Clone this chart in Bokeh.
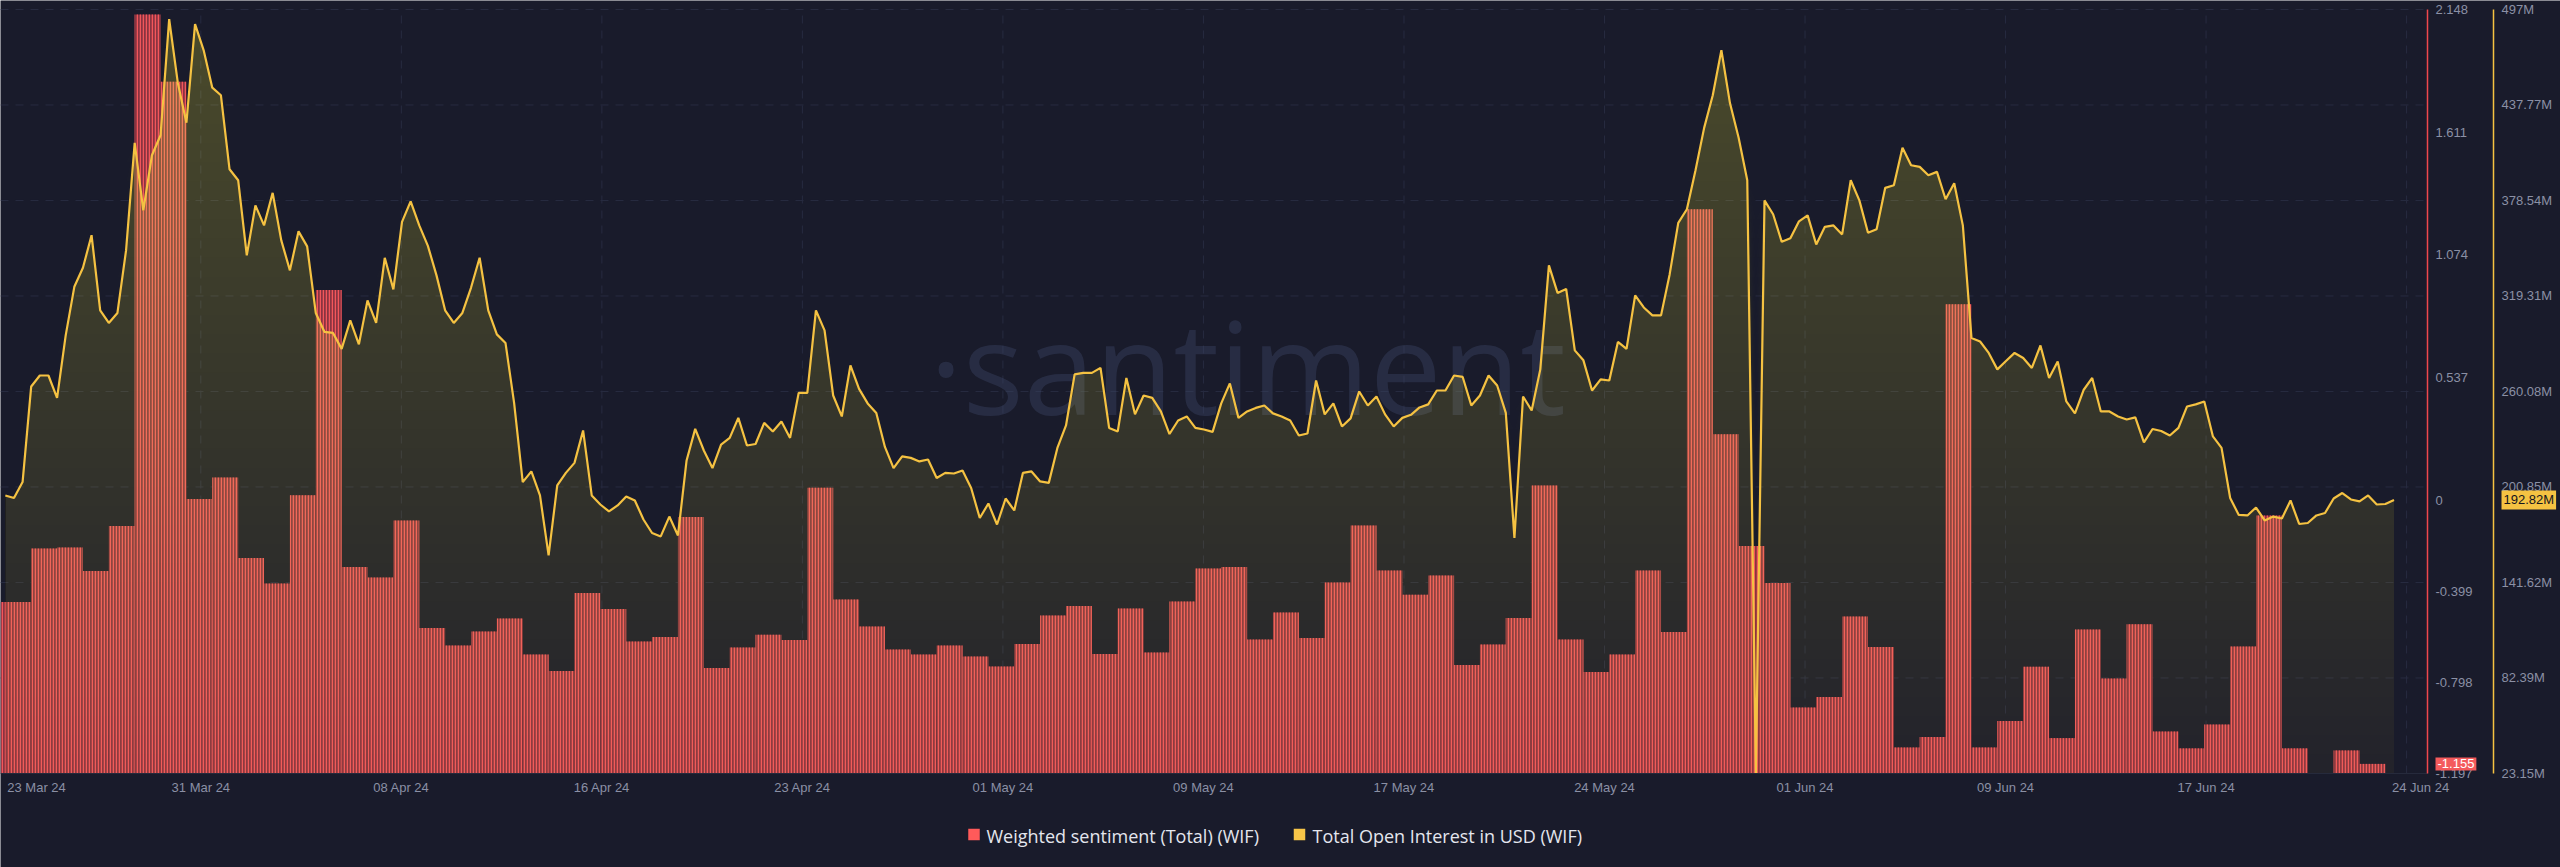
import numpy as np
import pandas as pd
from bokeh.plotting import figure
from bokeh.models import Range1d, Label, ColumnDataSource
from bokeh.core.properties import value
from bokeh.embed import file_html
from bokeh.resources import INLINE

# ---------------- data ----------------
sentiment_first_day = "2024-03-23"
sentiment = [
    -0.446, -0.446, -0.212, -0.207, -0.310, -0.113, 2.126, 1.832, 0.005, 0.099,
    -0.253, -0.365, 0.021, 0.920, -0.293, -0.339, -0.089, -0.560, -0.637, -0.575,
    -0.518, -0.676, -0.748, -0.407, -0.477, -0.619, -0.599, -0.074, -0.735, -0.645,
    -0.590, -0.612, 0.054, -0.435, -0.553, -0.654, -0.676, -0.637, -0.685, -0.728,
    -0.630, -0.505, -0.464, -0.674, -0.475, -0.667, -0.444, -0.299, -0.293, -0.610,
    -0.492, -0.604, -0.361, -0.111, -0.308, -0.414, -0.330, -0.722, -0.632, -0.516,
    0.064, -0.610, -0.753, -0.676, -0.308, -0.577, 1.273, 0.288, -0.201, -0.363,
    -0.908, -0.862, -0.510, -0.643, -1.083, -1.037, 0.857, -1.083, -0.967, -0.730,
    -1.042, -0.566, -0.781, -0.544, -1.013, -1.087, -0.982, -0.641, -0.067, -1.087,
    None, -1.096, -1.155,
]

oi_first_time = "2024-03-24 00:00"
oi_interval = "8h"
open_interest_musd = [
    195.6, 194.0, 203.9, 263.2, 270.0, 270.0, 256.1, 294.9, 325.0, 336.8,
    357.0, 310.4, 302.6, 308.8, 347.6, 414.3, 372.4, 406.6, 419.0, 491.0,
    451.6, 426.8, 487.9, 471.7, 448.5, 443.8, 397.9, 391.1, 344.5, 375.5,
    363.1, 383.3, 353.8, 335.2, 359.4, 350.1, 308.8, 297.1, 296.4, 286.5,
    304.2, 289.3, 316.6, 302.6, 343.0, 323.4, 365.3, 378.0, 363.1, 350.4,
    332.1, 310.4, 302.6, 308.8, 324.4, 343.0, 310.4, 295.5, 290.2, 253.0,
    203.9, 210.5, 195.6, 158.4, 201.8, 209.6, 215.8, 235.9, 195.6, 190.0,
    185.7, 189.4, 195.0, 192.5, 180.7, 172.3, 170.2, 182.5, 170.8, 217.3,
    236.9, 223.5, 212.6, 227.2, 231.3, 243.7, 226.6, 227.5, 240.6, 235.3,
    241.5, 231.3, 259.2, 259.2, 310.4, 298.0, 257.6, 244.6, 276.3, 261.7,
    252.7, 246.8, 225.7, 212.6, 219.8, 218.9, 216.7, 217.9, 206.4, 209.6,
    209.2, 211.1, 200.2, 181.6, 190.6, 177.6, 193.7, 186.3, 209.6, 210.5,
    204.3, 203.4, 225.1, 239.0, 270.7, 271.6, 271.6, 274.7, 237.5, 235.3,
    268.5, 245.9, 257.6, 256.1, 247.7, 233.7, 242.1, 244.6, 237.5, 236.5,
    235.0, 252.7, 265.1, 243.7, 247.7, 249.9, 251.4, 246.5, 244.6, 242.1,
    232.8, 234.0, 266.9, 245.9, 252.7, 238.4, 243.4, 260.1, 251.4, 257.0,
    245.9, 238.4, 243.7, 245.6, 250.2, 252.1, 260.7, 260.7, 270.0, 269.1,
    251.4, 257.6, 270.0, 263.8, 246.8, 169.2, 257.0, 248.3, 273.8, 338.3,
    321.2, 323.7, 285.6, 279.4, 260.7, 267.6, 266.9, 290.8, 286.5, 319.7,
    312.2, 307.3, 307.3, 332.7, 364.7, 373.1, 397.3, 423.6, 443.8, 471.7,
    438.8, 417.4, 391.1, 23.2, 378.6, 370.0, 352.9, 355.1, 365.6, 369.3,
    351.3, 362.2, 363.1, 357.5, 391.1, 378.6, 358.5, 360.7, 386.4, 388.0,
    411.2, 400.4, 399.4, 394.2, 396.3, 379.3, 389.2, 363.1, 293.3, 291.1,
    284.0, 273.8, 279.0, 284.0, 280.9, 274.7, 288.6, 268.5, 278.7, 253.9,
    246.5, 261.0, 268.5, 247.7, 247.7, 244.6, 242.7, 244.0, 228.5, 236.8,
    235.6, 232.8, 237.5, 250.8, 252.1, 253.9, 232.2, 225.1, 194.0, 183.5,
    183.2, 188.1, 180.1, 182.5, 181.3, 192.5, 177.9, 178.5, 183.2, 184.7,
    193.7, 197.1, 193.1, 191.9, 195.6, 190.0, 190.3, 192.8,
]

x_tick_labels = ["23 Mar 24", "31 Mar 24", "08 Apr 24", "16 Apr 24", "23 Apr 24",
                 "01 May 24", "09 May 24", "17 May 24", "24 May 24", "01 Jun 24",
                 "09 Jun 24", "17 Jun 24", "24 Jun 24"]
sentiment_ticks = [2.148, 1.611, 1.074, 0.537, 0.0, -0.399, -0.798, -1.197]
sentiment_tick_labels = ["2.148", "1.611", "1.074", "0.537", "0", "-0.399", "-0.798", "-1.197"]
oi_ticks = [497.0, 437.77, 378.54, 319.31, 260.08, 200.85, 141.62, 82.39, 23.15]
oi_tick_labels = ["497M", "437.77M", "378.54M", "319.31M", "260.08M", "200.85M",
                  "141.62M", "82.39M", "23.15M"]
last_sentiment = -1.155
last_oi = 192.82
series_names = ["Weighted sentiment (Total) (WIF)", "Total Open Interest in USD (WIF)"]

# ---------------- style ----------------
BG = "#191b2b"
RED = "#f2565b"
RED_DARK = "#8a3340"
RED_AXIS = "#f0474d"
YEL = "#f5c242"
AREA = "#f5c242"
TXT = "#8b90a5"
GRID = "#272b40"
FONT = "Liberation Sans"
W, H = 2560, 867
PLOT_L, PLOT_R, PLOT_T, PLOT_B = 0, 2427, 9, 773     # plotting area inside the canvas (px)
AXIS2_X = 2493                                       # second (open interest) axis line (px)

# ---------------- derived ----------------
days = pd.date_range(sentiment_first_day, periods=len(sentiment), freq="D")
bar_x = days + pd.Timedelta(hours=12)
sent = np.array([np.nan if v is None else v for v in sentiment], dtype=float)
oi_t = pd.date_range(oi_first_time, periods=len(open_interest_musd), freq=oi_interval)
oi = np.array(open_interest_musd, dtype=float)


def ms(ts):
    return pd.Timestamp(ts).value / 1e6


t_left = ms("2024-03-23 19:31")       # time at left edge of plotting area
t_right = ms("2024-06-25 15:04")      # time at right edge of plotting area
ms_per_px = (t_right - t_left) / (PLOT_R - PLOT_L)
s_lo, s_hi = sentiment_ticks[-1], sentiment_ticks[0]
o_lo, o_hi = oi_ticks[-1], oi_ticks[0]
s_per_px = (s_hi - s_lo) / (PLOT_B - PLOT_T)
o_per_px = (o_hi - o_lo) / (PLOT_B - PLOT_T)


def xpx(px):
    return t_left + (px - PLOT_L) * ms_per_px


def ypx(py):
    return s_hi - (py - PLOT_T) * s_per_px


def ypx_oi(py):
    return o_hi - (py - PLOT_T) * o_per_px


# evenly spaced date ticks (as in the reference)
grid_ms = list(np.linspace(ms("2024-03-23 19:20"), ms("2024-06-24 19:40"), len(x_tick_labels)))
label_ms = list(grid_ms)
label_ms[0] += 33.6 * 3600e3
label_ms[-1] += 13 * 3600e3

p = figure(width=W, height=H, x_axis_location=None, y_axis_location=None,
           x_range=Range1d(xpx(0), xpx(W)),
           y_range=Range1d(ypx(H), ypx(0)),
           output_backend="svg", toolbar_location=None,
           min_border_left=0, min_border_top=0, min_border_bottom=0, min_border_right=0)
p.extra_y_ranges = {"oi": Range1d(ypx_oi(H), ypx_oi(0))}
p.background_fill_color = BG
p.border_fill_color = BG
p.outline_line_color = None
p.grid.visible = False
p.xgrid.visible = False
p.ygrid.visible = False

# grid lines
vis_grid = [g for g in grid_ms if t_left < g < t_right]
p.segment(x0=vis_grid, x1=vis_grid, y0=s_lo, y1=s_hi, line_color=GRID, line_dash="8 7",
          line_width=1)
p.segment(x0=t_left, x1=t_right, y0=oi_ticks[:-1], y1=oi_ticks[:-1], y_range_name="oi",
          line_color=GRID, line_dash="8 7", line_width=1)

# watermark
p.text(x=[xpx(1247)], y=[ypx_oi(365)], y_range_name="oi", text=["\u00b7santiment"],
       text_align="center", text_baseline="middle", text_font=value("Open Sans"),
       text_font_size=value("128px"), text_color="#3a4262", text_alpha=0.45)

# sentiment bars
bar_src = ColumnDataSource(dict(x=bar_x, top=sent))
p.vbar(x="x", top="top", bottom=s_lo, width=86400000, source=bar_src,
       fill_color=RED_DARK, line_color=None, hatch_pattern="vertical_line",
       hatch_color=RED, hatch_scale=3, hatch_weight=1.5)

# open interest gradient area
p.varea(x=oi_t, y1=o_lo, y2=oi, fill_color=AREA, fill_alpha=0.05, y_range_name="oi")
n_layers = 40
for k in range(1, n_layers):
    th = o_lo + (o_hi - o_lo) * k / n_layers
    if oi.max() <= th:
        break
    p.varea(x=oi_t, y1=th, y2=np.maximum(oi, th), fill_color=AREA, fill_alpha=0.0077,
            y_range_name="oi")
p.line(oi_t, oi, line_color=YEL, line_width=2.2, y_range_name="oi")

# bottom axis line and date labels
p.segment(x0=t_left, x1=t_right, y0=s_lo, y1=s_lo, line_color="#262a3c", line_width=1)
p.text(x=label_ms, y=ypx(787), text=x_tick_labels, text_align="center", text_baseline="middle",
       text_font=value(FONT), text_font_size=value("13px"), text_color=TXT)

# right axes (sentiment in red, open interest in yellow)
p.segment(x0=t_right, x1=t_right, y0=s_lo, y1=s_hi, line_color=RED_AXIS, line_width=1.5)
p.text(x=t_right, y=sentiment_ticks, text=sentiment_tick_labels, x_offset=8,
       text_align="left", text_baseline="middle", text_font=value(FONT),
       text_font_size=value("13px"), text_color=TXT)
x_ax2 = xpx(AXIS2_X)
p.segment(x0=x_ax2, x1=x_ax2, y0=o_lo, y1=o_hi, y_range_name="oi", line_color=YEL,
          line_width=1.5)
p.text(x=x_ax2, y=oi_ticks, text=oi_tick_labels, y_range_name="oi", x_offset=8,
       text_align="left", text_baseline="middle", text_font=value(FONT),
       text_font_size=value("13px"), text_color=TXT)

# current value tags
p.add_layout(Label(x=x_ax2, y=last_oi, y_range_name="oi", x_offset=8, text=f"{last_oi:.2f}M",
                   text_align="left", text_baseline="middle", text_font=FONT,
                   text_font_size="13px", text_color="#14151f", background_fill_color=YEL,
                   padding=2))
p.add_layout(Label(x=t_right, y=last_sentiment, x_offset=8, text=f"{last_sentiment:.3f}",
                   text_align="left", text_baseline="middle", text_font=FONT,
                   text_font_size="13px", text_color="#ffffff", background_fill_color="#f45a5c",
                   padding=2))

# legend below the plotting area
legend_colors = ["#ff5a5a", "#f7c548"]
legend_square_px = [973.5, 1299]
legend_text_px = [986, 1312]
p.rect(x=[xpx(v) for v in legend_square_px], y=ypx(834), width=11.5, height=11.5,
       width_units="screen", height_units="screen", fill_color=legend_colors, line_color=None)
p.text(x=[xpx(v) for v in legend_text_px], y=ypx(835), text=series_names, text_align="left",
       text_baseline="middle", text_font=value("Open Sans"), text_font_size=value("18px"),
       text_color="#e4e6ee")

open("out.html", "w").write(file_html(p, INLINE))
